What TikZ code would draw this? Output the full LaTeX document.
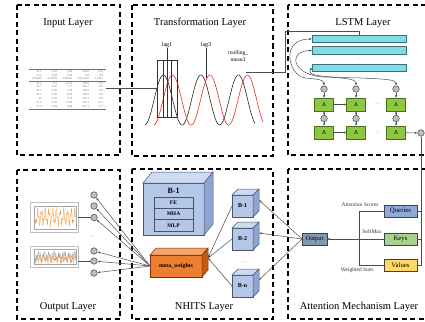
\documentclass[tikz,border=0pt]{standalone}
\usepackage{fontspec}
\setmainfont{Liberation Serif}
\usetikzlibrary{arrows.meta}

\definecolor{barcyan}{RGB}{125,222,232}
\definecolor{barline}{RGB}{60,110,120}
\definecolor{cellgreen}{RGB}{141,198,63}
\definecolor{cellline}{RGB}{70,110,30}
\definecolor{cubefront}{RGB}{180,199,231}
\definecolor{cubetop}{RGB}{205,218,240}
\definecolor{cubeside}{RGB}{142,166,207}
\definecolor{cubeline}{RGB}{70,85,115}
\definecolor{mwfront}{RGB}{237,125,49}
\definecolor{mwtop}{RGB}{244,165,110}
\definecolor{mwside}{RGB}{197,90,17}
\definecolor{mwline}{RGB}{120,55,10}
\definecolor{qblue}{RGB}{142,170,219}
\definecolor{kgreen}{RGB}{169,209,142}
\definecolor{vyellow}{RGB}{255,217,102}
\definecolor{outslate}{RGB}{132,151,176}
\definecolor{wavered}{RGB}{228,45,45}
\definecolor{plotorange}{RGB}{240,150,60}
\definecolor{plotblue}{RGB}{110,160,210}

\tikzset{
  panel/.style={draw, line width=1.1pt, dash pattern=on 5pt off 3.5pt},
  title/.style={font=\fontsize{10.5}{12}\selectfont},
  link/.style={draw=black!70, line width=0.5pt},
  link_arrow/.style={link, -{Latex[length=2.6pt,width=2.2pt]}},
  both_arrow/.style={link, {Latex[length=2.6pt,width=2.2pt]}-{Latex[length=2.6pt,width=2.2pt]}},
  small_label/.style={font=\fontsize{5.5}{6}\selectfont, inner sep=0.5pt},
  lstm_bar/.style={draw=barline, fill=barcyan, line width=0.5pt, minimum width=94pt, minimum height=7.5pt, inner sep=0pt, outer sep=0pt},
  cell_a/.style={draw=cellline, fill=cellgreen, line width=0.6pt, minimum width=19pt, minimum height=13pt, inner sep=0pt, outer sep=0pt, font=\fontsize{6}{7}\selectfont},
  lstm_dot/.style={circle, draw=black!75, fill=black!25, line width=0.5pt, minimum size=6.5pt, inner sep=0pt},
  cube_face/.style={draw=cubeline, fill=cubefront, line width=0.5pt, inner sep=0pt, outer sep=0pt, font=\bfseries\fontsize{6}{7}\selectfont},
  inner_box/.style={draw=cubeline, fill=cubefront, line width=0.5pt, minimum width=39pt, minimum height=11.3pt, inner sep=0pt, outer sep=0pt, font=\bfseries\fontsize{5.5}{6}\selectfont},
  qkv_box/.style={draw=black!75, line width=0.6pt, minimum width=33pt, minimum height=12pt, inner sep=0pt, outer sep=0pt, font=\fontsize{6.8}{8}\selectfont},
  plot_frame/.style={draw=black!25, fill=white, line width=0.3pt, inner sep=0pt, outer sep=0pt},
}

\begin{document}
\begin{tikzpicture}[x=1pt, y=-1pt]
  \useasboundingbox (0,0) rectangle (425,321);
  \clip (0,0) rectangle (425,321);

  % Six dashed panels
  \draw[panel] (17,5) rectangle (120,155);
  \draw[panel] (132,5) rectangle (273,156);
  \draw[panel] (288,5) rectangle (445,155);
  \draw[panel] (17,170) rectangle (120,319);
  \draw[panel] (132,169) rectangle (273,319);
  \draw[panel] (288,169) rectangle (445,319);

  \node[title] (input_title) at (68,23) {Input Layer};
  \node[title] (trans_title) at (200,23) {Transformation Layer};
  \node[title] (lstm_title) at (363,23) {LSTM Layer};
  \node[title] (output_title) at (68,307) {Output Layer};
  \node[title] (nhits_title) at (204,307) {NHITS Layer};
  \node[title] (attn_title) at (359,307) {Attention Mechanism Layer};

  % Input data table
  \node[inner sep=0pt, text=black!55, font=\fontsize{3}{3.9}\selectfont] (data_table) at (67.5,89) {%
    \setlength{\tabcolsep}{2.8pt}\setlength{\arrayrulewidth}{0.15pt}%
    \begin{tabular}{rrrrr}
      \hline
      31.1 & 6.91 & 9.05 & 150.6 & 13.9\\
      32.2 & 6.99 & 9.28 & 152 & 9.9\\
      15.6286 & 4.17891 & 4.98761 & 195.3201 & 5.7414\\
      \hline
      31.2 & 6.1 & 12.01 & 150.5 & 8.5\\
      31.7 & 6.92 & 7.77 & 150.1 & 8.5\\
      30.4 & 6.93 & 7.42 & 150.9 & 8.6\\
      32.1 & 6.89 & 8.24 & 150.2 & 9.0\\
      33 & 6.96 & 9.16 & 149.7 & 8.9\\
      31.4 & 6.91 & 12.08 & 157.2 & 11.7\\
      31.2 & 6.84 & 8.49 & 157.1 & 9.7\\
      \hline
    \end{tabular}};

  % Shifted series
  \draw[black!85, line width=0.6pt] plot[domain=145:255, samples=140] (\x, {100-25*sin(9.6*(\x-154))});
  \draw[wavered, line width=0.6pt] plot[domain=154:263, samples=140] (\x, {100-25*sin(9.6*(\x-163))});
  \coordinate (wave_in) at (157,88);
  \coordinate (lag3_end) at (206,78);
  \coordinate (rm_peak) at (246,72);
  \draw[link] (data_table.east |- wave_in) -- (wave_in);

  % Lag window and feature labels
  \node[draw=black!80, line width=0.5pt, minimum width=20pt, minimum height=57pt, inner sep=0pt] (lag_box) at (167,88.5) {};
  \draw[black!80, line width=0.5pt] ([xshift=-4pt]lag_box.north) -- ([xshift=-4pt]lag_box.south);
  \draw[black!80, line width=0.5pt] ([xshift=4pt]lag_box.north) -- ([xshift=4pt]lag_box.south);
  \node[small_label, font=\fontsize{6}{7}\selectfont] (lag_one) at (167,45) {lag1};
  \draw[black!80, line width=0.5pt] (lag_one.south) -- (lag_one.south |- lag_box.south);
  \node[small_label, font=\fontsize{6}{7}\selectfont] (lag_three) at (206,45) {lag3};
  \draw[black!80, line width=0.5pt] (lag_three.south) -- (lag3_end);
  \node[small_label, align=center, font=\fontsize{5.5}{6.5}\selectfont] (rolling_mean) at (238,56) {roolling\_\\mean3};

  % LSTM sequence bars
  \node[lstm_bar] (bar_1) at (359,39) {};
  \node[lstm_bar] (bar_2) at (359,50.5) {};
  \node[lstm_bar] (bar_3) at (359,67.5) {};
  \node[font=\fontsize{5}{5}\selectfont, text=black!50] (bar_dots) at (360,59) {...};
  \coordinate (turn) at (285,31);
  \draw[link] (rm_peak) -| (turn) -| (bar_1.north);

  % LSTM cells
  \node[cell_a] (cell_11) at (324,104.5) {A};
  \node[cell_a] (cell_12) at (356,104.5) {A};
  \node[cell_a] (cell_13) at (396,104.5) {A};
  \node[cell_a] (cell_21) at (324,132.5) {A};
  \node[cell_a] (cell_22) at (356,132.5) {A};
  \node[cell_a] (cell_23) at (396,132.5) {A};
  \node[font=\fontsize{5}{5}\selectfont, text=black!55] (row1_dots) at (377,104.5) {...};
  \node[font=\fontsize{5}{5}\selectfont, text=black!55] (row2_dots) at (377,132.5) {...};

  \node[lstm_dot] (in_1) at (324,89) {};
  \node[lstm_dot] (in_2) at (356,89) {};
  \node[lstm_dot] (in_3) at (396,89) {};
  \node[lstm_dot] (mid_1) at (324,118.5) {};
  \node[lstm_dot] (mid_2) at (356,118.5) {};
  \node[lstm_dot] (mid_3) at (396,118.5) {};
  \node[lstm_dot] (lstm_out) at (421,133) {};

  \draw[both_arrow] (bar_1.west) .. controls (280,39) and (288,75) .. (305,78) .. controls (318,79) and (324,80) .. (in_1.north);
  \draw[both_arrow] (bar_2.west) .. controls (287,51) and (292,76) .. (325,77) .. controls (350,78) and (356,80) .. (in_2.north);
  \draw[both_arrow] (bar_3.west) .. controls (306,76) and (322,77) .. (360,78) .. controls (388,79) and (396,80) .. (in_3.north);

  \draw[link_arrow] (in_1) -- (cell_11);
  \draw[link_arrow] (in_2) -- (cell_12);
  \draw[link_arrow] (in_3) -- (cell_13);
  \draw[link_arrow] (mid_1) -- (cell_11);
  \draw[link_arrow] (mid_2) -- (cell_12);
  \draw[link_arrow] (mid_3) -- (cell_13);
  \draw[link_arrow] (mid_1) -- (cell_21);
  \draw[link_arrow] (mid_2) -- (cell_22);
  \draw[link_arrow] (mid_3) -- (cell_23);
  \draw[link_arrow] (cell_11) -- (cell_12);
  \draw[link_arrow] (cell_21) -- (cell_22);
  \draw[link_arrow] (cell_23) -- (lstm_out);

  % Attention block
  \node[qkv_box, fill=qblue] (queries) at (400.5,211) {Queries};
  \node[qkv_box, fill=kgreen] (keys) at (400.5,239) {Keys};
  \node[qkv_box, fill=vyellow] (values) at (400.5,265.5) {Values};
  \node[qkv_box, fill=outslate, minimum width=25pt, font=\fontsize{6.3}{7}\selectfont] (attn_out) at (314.5,239) {Output};
  \coordinate (sum_top) at (359,211);
  \coordinate (sum_bot) at (359,265.5);
  \draw[link] (queries.west) -- (sum_top) -- (sum_bot) -- (values.west);
  \draw[link_arrow] (keys.west) -- (attn_out.east);
  \draw[link] (lstm_out.south) -- (lstm_out.south |- values.east) -- (values.east);
  \draw[link] (queries.east) -- (queries.east -| lstm_out.south);
  \draw[link] (keys.east) -- (keys.east -| lstm_out.south);
  \node[small_label, text=black!80] (scores_label) at (360,204.5) {Attention Scores};
  \node[small_label, text=black!80] (softmax_label) at (372,232) {SoftMax};
  \node[small_label, text=black!80] (sum_label) at (357,270.5) {Weighted Sum};

  % NHITS blocks drawn as boxes
  \node[cube_face, minimum width=61pt, minimum height=52pt] (big_block) at (173.5,209) {};
  \filldraw[fill=cubetop, draw=cubeline, line width=0.5pt] (big_block.north west) -- ++(9,-11) -- ([shift={(9,-11)}]big_block.north east) -- (big_block.north east) -- cycle;
  \filldraw[fill=cubeside, draw=cubeline, line width=0.5pt] (big_block.north east) -- ++(9,-11) -- ([shift={(9,-11)}]big_block.south east) -- (big_block.south east) -- cycle;
  \node[font=\bfseries\fontsize{8}{9}\selectfont] (big_label) at (173.5,191) {B-1};
  \node[inner_box] (fe) at (173.5,202.6) {FE};
  \node[inner_box, anchor=north] (mha) at (fe.south) {MHA};
  \node[inner_box, anchor=north] (mlp) at (mha.south) {MLP};

  \node[cube_face, minimum width=21pt, minimum height=22pt] (block_1) at (242.5,206) {B-1};
  \filldraw[fill=cubetop, draw=cubeline, line width=0.5pt] (block_1.north west) -- ++(6,-6) -- ([shift={(6,-6)}]block_1.north east) -- (block_1.north east) -- cycle;
  \filldraw[fill=cubeside, draw=cubeline, line width=0.5pt] (block_1.north east) -- ++(6,-6) -- ([shift={(6,-6)}]block_1.south east) -- (block_1.south east) -- cycle;

  \node[cube_face, minimum width=21pt, minimum height=22pt] (block_2) at (242.5,239) {B-2};
  \filldraw[fill=cubetop, draw=cubeline, line width=0.5pt] (block_2.north west) -- ++(6,-6) -- ([shift={(6,-6)}]block_2.north east) -- (block_2.north east) -- cycle;
  \filldraw[fill=cubeside, draw=cubeline, line width=0.5pt] (block_2.north east) -- ++(6,-6) -- ([shift={(6,-6)}]block_2.south east) -- (block_2.south east) -- cycle;

  \node[font=\fontsize{5}{5}\selectfont, text=black!55] (block_dots) at (245,262) {...};

  \node[cube_face, minimum width=21pt, minimum height=22pt] (block_n) at (242.5,286) {B-n};
  \filldraw[fill=cubetop, draw=cubeline, line width=0.5pt] (block_n.north west) -- ++(6,-6) -- ([shift={(6,-6)}]block_n.north east) -- (block_n.north east) -- cycle;
  \filldraw[fill=cubeside, draw=cubeline, line width=0.5pt] (block_n.north east) -- ++(6,-6) -- ([shift={(6,-6)}]block_n.south east) -- (block_n.south east) -- cycle;

  \node[cube_face, draw=mwline, fill=mwfront, minimum width=52pt, minimum height=22pt, font=\bfseries\fontsize{5.8}{6.5}\selectfont] (meta_weights) at (176,266) {meta\_weights};
  \filldraw[fill=mwtop, draw=mwline, line width=0.5pt] (meta_weights.north west) -- ++(6,-7) -- ([shift={(6,-7)}]meta_weights.north east) -- (meta_weights.north east) -- cycle;
  \filldraw[fill=mwside, draw=mwline, line width=0.5pt] (meta_weights.north east) -- ++(6,-7) -- ([shift={(6,-7)}]meta_weights.south east) -- (meta_weights.south east) -- cycle;
  \coordinate (mw_in) at ([shift={(6,-8)}]meta_weights.east);

  \draw[link_arrow] (attn_out.west) -- ([shift={(6,-6)}]block_1.east);
  \draw[link_arrow] (attn_out.west) -- ([shift={(6,-6)}]block_2.east);
  \draw[link_arrow] (attn_out.west) -- ([shift={(6,-6)}]block_n.east);
  \draw[link_arrow] (block_1.west) -- (mw_in);
  \draw[link_arrow] (block_2.west) -- (mw_in);
  \draw[link_arrow] (block_n.west) -- (mw_in);

  % Output forecasts
  \node[lstm_dot] (out_1) at (94,195) {};
  \node[lstm_dot] (out_2) at (94,206) {};
  \node[lstm_dot] (out_3) at (94,217.5) {};
  \node[lstm_dot] (out_4) at (94,251) {};
  \node[lstm_dot] (out_5) at (94,261) {};
  \node[lstm_dot] (out_6) at (94,273) {};
  \node[font=\fontsize{5}{5}\selectfont, text=black!55] (out_dots) at (93,236) {...};
  \draw[link_arrow] (meta_weights.west) -- (out_1);
  \draw[link_arrow] (meta_weights.west) -- (out_2);
  \draw[link_arrow] (meta_weights.west) -- (out_3);
  \draw[link_arrow] (meta_weights.west) -- (out_4);
  \draw[link_arrow] (meta_weights.west) -- (out_5);
  \draw[link_arrow] (meta_weights.west) -- (out_6);

  \node[plot_frame, minimum width=48pt, minimum height=30pt] (plot_a) at (54,217.5) {};
  \draw[black!35, line width=0.2pt] (34,206) rectangle (76,229);
  \draw[plotorange, line width=0.3pt] plot[domain=0:41, samples=150] (35+\x, {217+6*sin(\x*97)+3.5*sin(\x*233+40)});
  \node[plot_frame, minimum width=48pt, minimum height=21pt] (plot_b) at (54,256.5) {};
  \draw[black!35, line width=0.2pt] (34,249) rectangle (76,264);
  \draw[plotblue, line width=0.3pt] plot[domain=0:41, samples=150] (35+\x, {257+3.5*sin(\x*71)+2.5*sin(\x*181+20)});
  \draw[plotorange, line width=0.3pt] plot[domain=0:41, samples=150] (35+\x, {258+3*sin(\x*113+60)+2.5*sin(\x*257)});
  \draw[link] (plot_a.east) -- (out_3);
  \draw[link] (plot_b.east |- out_5) -- (out_5);
\end{tikzpicture}
\end{document}
